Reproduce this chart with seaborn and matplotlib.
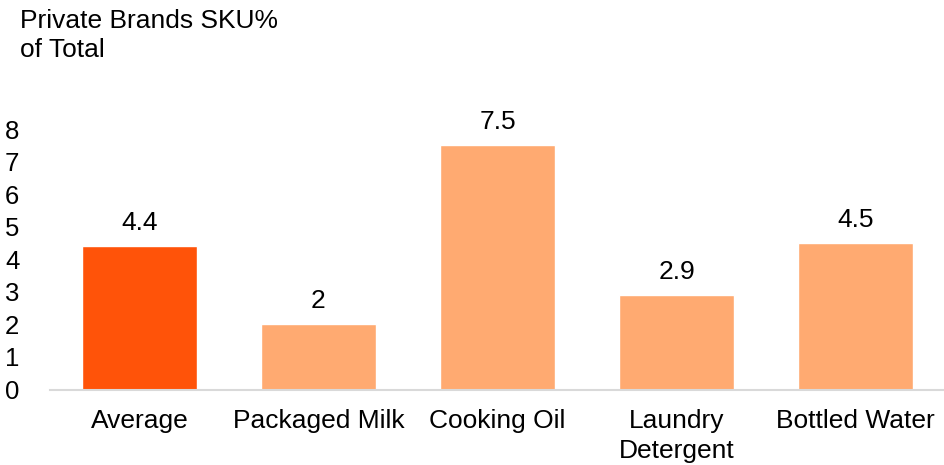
import matplotlib
matplotlib.use("Agg")
import matplotlib.pyplot as plt
import seaborn as sns
import pandas as pd

categories = ["Average", "Packaged Milk", "Cooking Oil", "Laundry\nDetergent", "Bottled Water"]
values = [4.4, 2, 7.5, 2.9, 4.5]
value_labels = ["4.4", "2", "7.5", "2.9", "4.5"]
y_ticks = [0, 1, 2, 3, 4, 5, 6, 7, 8]
bar_colors = ["#FF5309", "#FFAA71", "#FFAA71", "#FFAA71", "#FFAA71"]

sns.set_theme(style="white")
plt.rcParams["font.family"] = ["Liberation Sans", "DejaVu Sans"]

df = pd.DataFrame({"category": categories, "value": values})

fig = plt.figure(figsize=(9.45, 4.65), dpi=100)
ax = fig.add_axes([50 / 945, 1 - 389.5 / 465, 895 / 945, (389.5 - 129) / 465])

sns.barplot(data=df, x="category", y="value", hue="category",
            palette=bar_colors, width=0.645, legend=False, ax=ax,
            saturation=1)

for i, (v, lab) in enumerate(zip(values, value_labels)):
    ax.text(i, v + 0.35, lab, ha="center", va="bottom", fontsize=19,
            color="#000000", clip_on=False)

ax.set_xlim(-0.5, 4.5)
ax.set_ylim(0, 8)
ax.set_yticks(y_ticks)
ax.set_yticklabels([str(t) for t in y_ticks], fontsize=18.5)
ax.tick_params(axis="y", length=0, pad=22, colors="#000000")
ax.tick_params(axis="x", length=0, pad=14, labelsize=19, colors="#000000")
for lab in ax.get_xticklabels():
    lab.set_linespacing(1.3)
ax.set_xlabel("")
ax.set_ylabel("")
for s in ["left", "right", "top"]:
    ax.spines[s].set_visible(False)
ax.spines["bottom"].set_color("#D9D9D9")
ax.spines["bottom"].set_linewidth(1.5)

fig.text(20 / 945, 1 - 9 / 465, "Private Brands SKU%\nof Total", ha="left", va="top",
         fontsize=19, color="#000000", linespacing=1.25)

fig.savefig("out.png", dpi=100, facecolor="white")
